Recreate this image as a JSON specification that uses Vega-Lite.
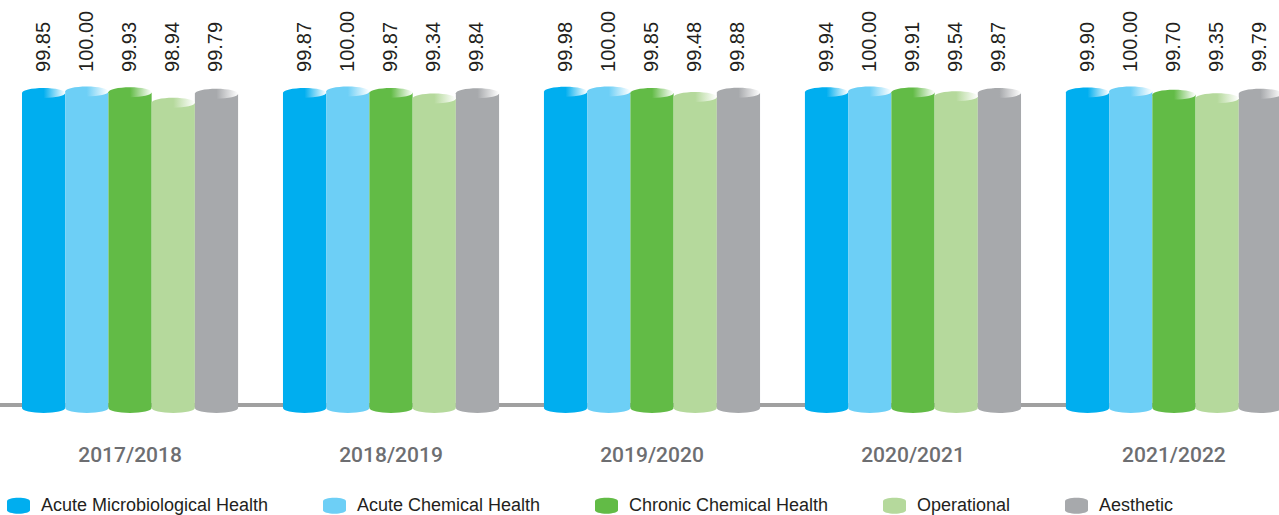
{
  "$schema": "https://vega.github.io/schema/vega-lite/v6.json",
  "width": 1279,
  "height": 408,
  "autosize": "none",
  "padding": {"left": 0, "top": 0, "right": 0, "bottom": 107},
  "background": "white",
  "config": {"view": {"stroke": null}},
  "data": {"values": [
    {"year": "2017/2018", "series": "Acute Microbiological Health", "value": 99.85},
    {"year": "2017/2018", "series": "Acute Chemical Health", "value": 100.00},
    {"year": "2017/2018", "series": "Chronic Chemical Health", "value": 99.93},
    {"year": "2017/2018", "series": "Operational", "value": 98.94},
    {"year": "2017/2018", "series": "Aesthetic", "value": 99.79},
    {"year": "2018/2019", "series": "Acute Microbiological Health", "value": 99.87},
    {"year": "2018/2019", "series": "Acute Chemical Health", "value": 100.00},
    {"year": "2018/2019", "series": "Chronic Chemical Health", "value": 99.87},
    {"year": "2018/2019", "series": "Operational", "value": 99.34},
    {"year": "2018/2019", "series": "Aesthetic", "value": 99.84},
    {"year": "2019/2020", "series": "Acute Microbiological Health", "value": 99.98},
    {"year": "2019/2020", "series": "Acute Chemical Health", "value": 100.00},
    {"year": "2019/2020", "series": "Chronic Chemical Health", "value": 99.85},
    {"year": "2019/2020", "series": "Operational", "value": 99.48},
    {"year": "2019/2020", "series": "Aesthetic", "value": 99.88},
    {"year": "2020/2021", "series": "Acute Microbiological Health", "value": 99.94},
    {"year": "2020/2021", "series": "Acute Chemical Health", "value": 100.00},
    {"year": "2020/2021", "series": "Chronic Chemical Health", "value": 99.91},
    {"year": "2020/2021", "series": "Operational", "value": 99.54},
    {"year": "2020/2021", "series": "Aesthetic", "value": 99.87},
    {"year": "2021/2022", "series": "Acute Microbiological Health", "value": 99.90},
    {"year": "2021/2022", "series": "Acute Chemical Health", "value": 100.00},
    {"year": "2021/2022", "series": "Chronic Chemical Health", "value": 99.70},
    {"year": "2021/2022", "series": "Operational", "value": 99.35},
    {"year": "2021/2022", "series": "Aesthetic", "value": 99.79}
  ]},
  "encoding": {
    "x": {
      "field": "year", "type": "nominal",
      "scale": {"range": [0, 1304], "paddingInner": 0.172, "paddingOuter": 0.0843},
      "axis": {"title": null, "domain": false, "ticks": false, "labelAngle": 0, "labelFont": "Roboto", "labelFontSize": 21, "labelFontWeight": 500, "labelColor": "#6d6e71", "labelPadding": 36}
    },
    "xOffset": {
      "field": "series", "type": "nominal",
      "sort": ["Acute Microbiological Health", "Acute Chemical Health", "Chronic Chemical Health", "Operational", "Aesthetic"],
      "scale": {"paddingInner": 0, "paddingOuter": 0}
    }
  },
  "layer": [
    {
      "mark": {"type": "rule", "color": "#a0a0a0", "strokeWidth": 2.5},
      "encoding": {
        "x": null, "xOffset": null,
        "y": {"datum": 70.284, "type": "quantitative", "scale": {"domain": [70, 108.67], "zero": false, "nice": false}, "axis": null}
      }
    },
    {
      "mark": {"type": "bar", "strokeWidth": 0},
      "encoding": {
        "y": {"field": "value", "type": "quantitative", "scale": {"domain": [70, 108.67], "zero": false, "nice": false}, "axis": null},
        "y2": {"datum": 70},
        "color": {
          "field": "series", "type": "nominal",
          "scale": {"domain": ["Acute Microbiological Health", "Acute Chemical Health", "Chronic Chemical Health", "Operational", "Aesthetic"], "range": ["#00aeef", "#6dcff6", "#62bb46", "#b5d99c", "#a7a9ac"]},
          "legend": {
            "title": null, "orient": "none", "legendX": 7, "legendY": 494, "direction": "horizontal",
            "symbolType": "M-1,-0.4 A1,0.3 0 0,1 1,-0.4 L1,0.4 A1,0.3 0 0,1 -1,0.4 Z",
            "symbolSize": 529, "symbolStrokeWidth": 0, "symbolOpacity": 1,
            "labelFont": "Liberation Sans", "labelFontSize": 18, "labelColor": "#231f20",
            "labelOffset": 11, "columnPadding": 54, "labelBaseline": "middle", "labelLimit": 400
          }
        }
      }
    },
    {
      "mark": {"type": "point", "filled": true, "opacity": 1, "strokeWidth": 0, "size": 1867, "shape": "M-1,0 A1,0.23 0 0,0 1,0 Z"},
      "encoding": {
        "y": {"datum": 70, "type": "quantitative"},
        "color": {"field": "series", "type": "nominal", "legend": null}
      }
    },
    {
      "transform": [{"filter": "datum.series === 'Acute Microbiological Health'"}],
      "mark": {"type": "point", "filled": true, "opacity": 1, "strokeWidth": 0, "size": 1867, "shape": "M-1,0 A1,0.23 0 1,1 1,0 A1,0.23 0 1,1 -1,0 Z",
        "fill": {"gradient": "linear", "x1": 0, "y1": 0, "x2": 1, "y2": 0, "stops": [{"offset": 0, "color": "#00aeef"}, {"offset": 0.5, "color": "#00aeef"}, {"offset": 1, "color": "#ffffff"}]}},
      "encoding": {"y": {"field": "value", "type": "quantitative"}}
    },
    {
      "transform": [{"filter": "datum.series === 'Acute Chemical Health'"}],
      "mark": {"type": "point", "filled": true, "opacity": 1, "strokeWidth": 0, "size": 1867, "shape": "M-1,0 A1,0.23 0 1,1 1,0 A1,0.23 0 1,1 -1,0 Z",
        "fill": {"gradient": "linear", "x1": 0, "y1": 0, "x2": 1, "y2": 0, "stops": [{"offset": 0, "color": "#6dcff6"}, {"offset": 0.5, "color": "#6dcff6"}, {"offset": 1, "color": "#ffffff"}]}},
      "encoding": {"y": {"field": "value", "type": "quantitative"}}
    },
    {
      "transform": [{"filter": "datum.series === 'Chronic Chemical Health'"}],
      "mark": {"type": "point", "filled": true, "opacity": 1, "strokeWidth": 0, "size": 1867, "shape": "M-1,0 A1,0.23 0 1,1 1,0 A1,0.23 0 1,1 -1,0 Z",
        "fill": {"gradient": "linear", "x1": 0, "y1": 0, "x2": 1, "y2": 0, "stops": [{"offset": 0, "color": "#62bb46"}, {"offset": 0.5, "color": "#62bb46"}, {"offset": 1, "color": "#ffffff"}]}},
      "encoding": {"y": {"field": "value", "type": "quantitative"}}
    },
    {
      "transform": [{"filter": "datum.series === 'Operational'"}],
      "mark": {"type": "point", "filled": true, "opacity": 1, "strokeWidth": 0, "size": 1867, "shape": "M-1,0 A1,0.23 0 1,1 1,0 A1,0.23 0 1,1 -1,0 Z",
        "fill": {"gradient": "linear", "x1": 0, "y1": 0, "x2": 1, "y2": 0, "stops": [{"offset": 0, "color": "#b5d99c"}, {"offset": 0.5, "color": "#b5d99c"}, {"offset": 1, "color": "#ffffff"}]}},
      "encoding": {"y": {"field": "value", "type": "quantitative"}}
    },
    {
      "transform": [{"filter": "datum.series === 'Aesthetic'"}],
      "mark": {"type": "point", "filled": true, "opacity": 1, "strokeWidth": 0, "size": 1867, "shape": "M-1,0 A1,0.23 0 1,1 1,0 A1,0.23 0 1,1 -1,0 Z",
        "fill": {"gradient": "linear", "x1": 0, "y1": 0, "x2": 1, "y2": 0, "stops": [{"offset": 0, "color": "#a7a9ac"}, {"offset": 0.5, "color": "#a7a9ac"}, {"offset": 1, "color": "#ffffff"}]}},
      "encoding": {"y": {"field": "value", "type": "quantitative"}}
    },
    {
      "mark": {"type": "text", "angle": 270, "align": "left", "baseline": "middle", "font": "Liberation Sans", "fontSize": 20, "color": "#231f20"},
      "encoding": {
        "y": {"datum": 101.85, "type": "quantitative"},
        "text": {"field": "value", "type": "quantitative", "format": ".2f"}
      }
    }
  ]
}
